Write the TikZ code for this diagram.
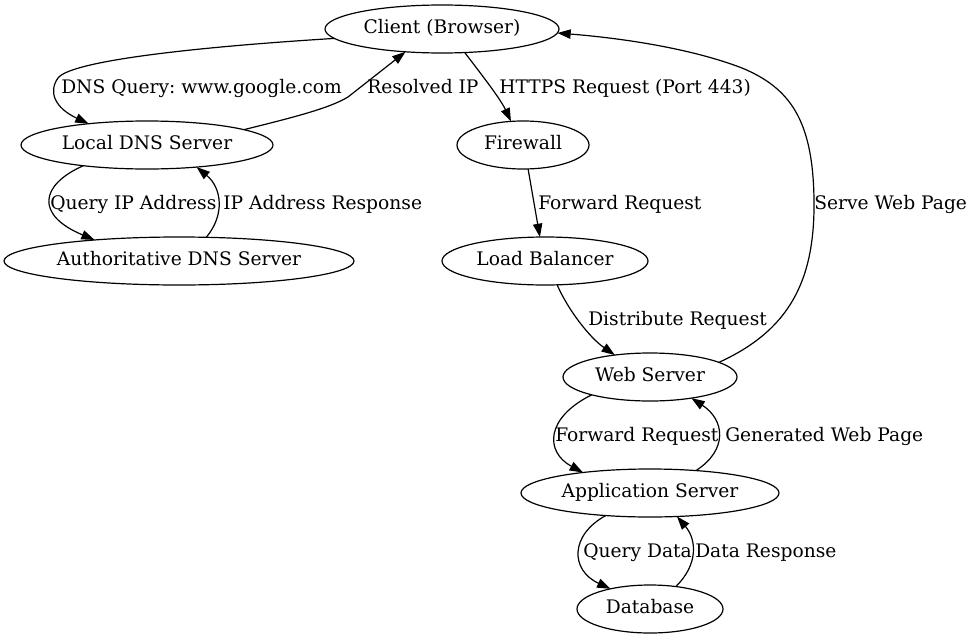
\documentclass[tikz,border=0pt]{standalone}
\usepackage{fontspec}
\setmainfont{DejaVu Serif}
\usetikzlibrary{shapes.geometric}
\usetikzlibrary{arrows.meta}
\frenchspacing

\begin{document}
\begin{tikzpicture} [
    x=0.75pt, y=-0.75pt,
    every node/.style = { font=\fontsize{14pt}{17pt}\selectfont },
    server/.style     = { ellipse, draw=black, line width=0.9pt,
                          minimum height=36pt, inner sep=0pt, outer sep=0pt,
                          text height=0.8em, text depth=0.15em },
    tag/.style        = { anchor=base west, inner sep=0pt },
    line/.style       = { draw, line width=0.9pt,
                          -{Triangle[length=10pt, width=7pt]} },
  ]
\useasboundingbox (0,0) rectangle (974,639);

% servers, one rank per row
\node [server, minimum width=175.5pt] (client) at (442,29)  {Client (Browser)};
\node [server, minimum width=189pt]   (ldns)   at (147,145) {Local DNS Server};
\node [server, minimum width=99pt]    (fw)     at (523,145) {Firewall};
\node [server, minimum width=262.5pt] (auth)   at (179,261) {Authoritative DNS Server};
\node [server, minimum width=154.5pt] (lb)     at (545,261) {Load Balancer};
\node [server, minimum width=130.5pt] (web)    at (650,377) {Web Server};
\node [server, minimum width=193.5pt] (app)    at (650,493) {Application Server};
\node [server, minimum width=109.5pt] (db)     at (650,609) {Database};

% edge labels
\node [tag] (dnsq)   at (61,93)  {DNS Query: www.google.com};
\node [tag] (resip)  at (367,93) {Resolved IP};
\node [tag] (https)  at (499,93) {HTTPS Request (Port 443)};
\node [tag] (qip)    at (50,209)  {Query IP Address};
\node [tag] (ipresp) at (223,209) {IP Address Response};
\node [tag] (fwd1)   at (538,209) {Forward Request};
\node [tag] (serve)  at (814,209) {Serve Web Page};
\node [tag] (dist)   at (588,325) {Distribute Request};
\node [tag] (fwd2)   at (555,441) {Forward Request};
\node [tag] (gen)    at (725,441) {Generated Web Page};
\node [tag] (qdata)  at (583,557) {Query Data};
\node [tag] (dresp)  at (695,557) {Data Response};

\begin{scope} [every path/.style=line]
    \path (client.185) .. controls (180,48) and (70,62) .. (58,78)
                       .. controls (48,92) and (55,108) .. (ldns.160);
    \path (ldns.9)     .. controls (295,117) and (330,108) .. (348,97) -- (client.212);
    \path (client.314) .. controls (478,70) and (500,98) .. (fw.117);
    \path (fw.282)     --                                  (lb.102);
    \path (lb.297)     .. controls (568,310) and (590,338) .. (web.148);
    \path (web.12)     .. controls (790,330) and (815,280) .. (814,200)
                       .. controls (813,120) and (790,88) .. (742,68)
                       .. controls (690,48) and (620,38) .. (client.358);
    \path (ldns.198)   .. controls (40,185) and (35,215) .. (auth.166);
    \path (auth.41)    .. controls (225,215) and (222,188) .. (ldns.336);
    \path (web.197)    .. controls (545,418) and (545,452) .. (app.163);
    \path (app.26)     .. controls (728,450) and (725,420) .. (web.333);
    \path (app.207)    .. controls (570,535) and (570,570) .. (db.153);
    \path (db.41)      .. controls (698,565) and (697,540) .. (app.319);
\end{scope}

\end{tikzpicture}
\end{document}
